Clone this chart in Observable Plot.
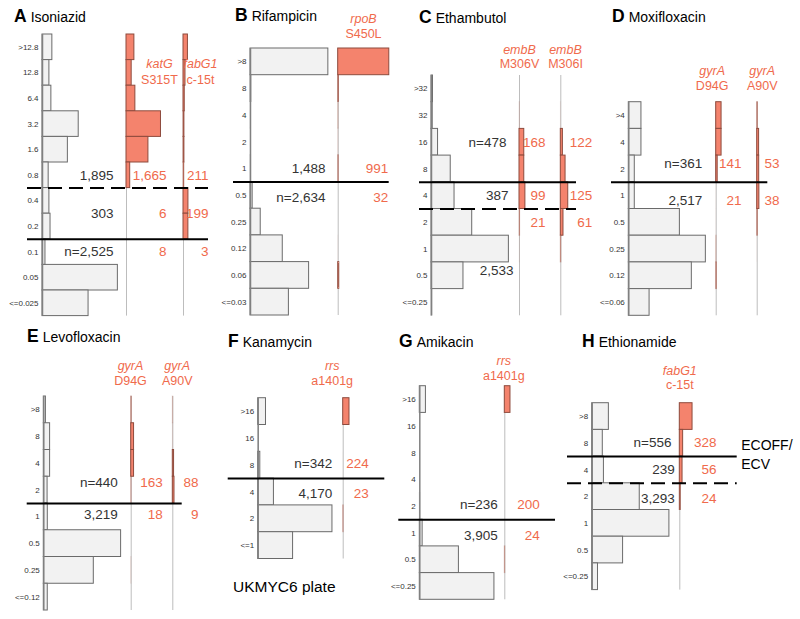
<!DOCTYPE html>
<html><head><meta charset="utf-8">
<script src="https://cdn.jsdelivr.net/npm/d3@7"></script>
<script src="https://cdn.jsdelivr.net/npm/@observablehq/plot@0.6"></script>
<style>
body{margin:0;background:#fff;}
#fig{position:relative;width:800px;height:619px;overflow:hidden;font-family:"Liberation Sans",Arial,Helvetica,sans-serif;background:#fff;}
#fig svg{position:absolute;left:0;top:0;}
.ttl{position:absolute;font-size:14px;color:#000;white-space:nowrap;line-height:17px;}
.ttl b{font-size:17.5px;margin-right:4px;}
.note{position:absolute;font-size:15.5px;color:#000;white-space:nowrap;line-height:16px;}
</style></head><body><div id="fig"></div>
<script>
// ---------- DATA ----------
// A Isoniazid
const isoMIC = [">12.8","12.8","6.4","3.2","1.6","0.8","0.4","0.2","0.1","0.05","<=0.025"];
const isoAll = [200,140,180,735,515,125,140,163,60,1530,935];
const isoKatG = [160,105,180,700,445,75,3,3,2,3,3];
const isoFabG1 = [90,40,25,20,20,16,100,99,1,1,1];
const isoSolid = "0.1", isoDashed = "0.4";
// B Rifampicin
const rifMIC = [">8","8","4","2","1","0.5","0.25","0.12","0.06","<=0.03"];
const rifAll = [1448,16,8,6,10,40,190,600,1090,714];
const rifRpoB = [950,15,8,6,12,2,3,5,20,2];
const rifSolid = "0.5", rifDashed = null;
// C Ethambutol
const embMIC = [">32","32","16","8","4","2","1","0.5","<=0.25"];
const embAll = [25,20,110,323,387,684,1300,537,12];
const embM306V = [2,6,80,80,99,10,5,4,2];
const embM306I = [2,5,35,80,125,45,10,4,2];
const embSolid = "4", embDashed = "2";
// D Moxifloxacin
const mxfMIC = [">4","4","2","1","0.5","0.25","0.12","<=0.06"];
const mxfAll = [146,146,69,69,590,890,728,240];
const mxfD94G = [62,62,17,3,3,5,8,2];
const mxfA90V = [8,22,23,25,8,3,1,1];
const mxfSolid = "1", mxfDashed = null;
// E Levofloxacin
const lfxMIC = [">8","8","4","2","1","0.5","0.25","<=0.12"];
const lfxAll = [50,150,150,90,95,1840,1190,94];
const lfxD94G = [15,68,68,12,3,5,8,2];
const lfxA90V = [10,8,30,40,5,2,1,1];
const lfxSolid = "1", lfxDashed = null;
// F Kanamycin
const kanMIC = [">16","16","8","4","2","<=1"];
const kanAll = [260,12,70,525,2480,1165];
const kanRrs = [210,6,8,3,18,2];
const kanSolid = "4", kanDashed = null;
// G Amikacin
const amiMIC = [">16","16","8","4","2","1","0.5","<=0.25"];
const amiAll = [205,6,5,5,15,95,1310,2500];
const amiRrs = [190,3,2,2,3,3,18,3];
const amiSolid = "1", amiDashed = null;
// H Ethionamide
const etoMIC = [">8","8","4","2","1","0.5","<=0.25"];
const etoAll = [340,216,239,970,1575,630,118];
const etoFabG1 = [260,68,56,20,2,1,1];
const etoSolid = "4", etoDashed = "2";

// ---------- STYLE ----------
const RED_FILL = "#f4836d", RED_STROKE = "#8e4b3d", RED_TEXT = "#f06a4c";
const GREY_FILL = "#f2f2f2", GREY_STROKE = "#6a6a6a", TEXT = "#333";
const FONT = "Liberation Sans, Arial, Helvetica, sans-serif";

// ---------- PANELS ----------
const panels = [
 {key:"A", name:"Isoniazid", mic:isoMIC, all:isoAll, solid:isoSolid, dashed:isoDashed, nGroup:2,
  genes:[{gene:"katG",mut:"S315T",counts:isoKatG},{gene:"fabG1",mut:"c-15t",counts:isoFabG1}],
  L:{axis:42, top:34, rowH:25.6, cpp:20.3, gx:[84,141], lineL:15, lineR:25, tx:14, ty:22,
     mainDx:[71,71,71], mainRows:[5.5,7,8.5], geneRows:[5.5,7,8.5], geneDx:[40,25],
     gLabel:[{dx:33,y:63},{dx:17,y:63}], gGap:16}},
 {key:"B", name:"Rifampicin", mic:rifMIC, all:rifAll, solid:rifSolid, dashed:rifDashed, nGroup:1,
  genes:[{gene:"rpoB",mut:"S450L",counts:rifRpoB}],
  L:{axis:250, top:48, rowH:26.7, cpp:18.6, gx:[87.7], lineL:17, lineR:51, tx:235, ty:21,
     mainDx:[75,75], mainRows:[4.5,5.6], geneRows:[4.5,5.6], geneDx:[50],
     gLabel:[{dx:25.3,y:18}], gGap:15}},
 {key:"C", name:"Ethambutol", mic:embMIC, all:embAll, solid:embSolid, dashed:embDashed, nGroup:0,
  genes:[{gene:"embB",mut:"M306V",counts:embM306V},{gene:"embB",mut:"M306I",counts:embM306I}],
  L:{axis:431, top:75, rowH:26.7, cpp:16.8, gx:[88,129.3], lineL:12, lineR:15.7, tx:419, ty:23,
     mainDx:[75,77,82], mainRows:[2.5,4.5,7.3], geneRows:[2.5,4.5,5.5], geneDx:[26,31.4],
     gLabel:[{dx:0,y:49},{dx:4.7,y:49}], gGap:14}},
 {key:"D", name:"Moxifloxacin", mic:mxfMIC, all:mxfAll, solid:mxfSolid, dashed:mxfDashed, nGroup:0,
  genes:[{gene:"gyrA",mut:"D94G",counts:mxfD94G},{gene:"gyrA",mut:"A90V",counts:mxfA90V}],
  L:{axis:628.3, top:101.7, rowH:26.7, cpp:11.55, gx:[87.4,128.4], lineL:17.3, lineR:10.6, tx:612, ty:22,
     mainDx:[73.4,73.4], mainRows:[2.3,3.7], geneRows:[2.3,3.7], geneDx:[25.3,22.3],
     gLabel:[{dx:-4,y:70},{dx:5,y:70}], gGap:15}},
 {key:"E", name:"Levofloxacin", mic:lfxMIC, all:lfxAll, solid:lfxSolid, dashed:lfxDashed, nGroup:0,
  genes:[{gene:"gyrA",mut:"D94G",counts:lfxD94G},{gene:"gyrA",mut:"A90V",counts:lfxA90V}],
  L:{axis:43.3, top:396, rowH:26.75, cpp:23.8, gx:[87.4,129], lineL:16.6, lineR:9.4, tx:27, ty:342,
     mainDx:[74,74], mainRows:[3.24,4.41], geneRows:[3.24,4.41], geneDx:[31.6,25.7],
     gLabel:[{dx:-0.7,y:365},{dx:4.4,y:365}], gGap:15}},
 {key:"F", name:"Kanamycin", mic:kanMIC, all:kanAll, solid:kanSolid, dashed:kanDashed, nGroup:0,
  genes:[{gene:"rrs",mut:"a1401g",counts:kanRrs}],
  L:{axis:257.7, top:397.7, rowH:26.8, cpp:33.4, gx:[85], lineL:30, lineR:41.6, tx:228, ty:347,
     mainDx:[74,74], mainRows:[2.45,3.57], geneRows:[2.45,3.57], geneDx:[25.6],
     gLabel:[{dx:-11,y:365}], gGap:15}},
 {key:"G", name:"Amikacin", mic:amiMIC, all:amiAll, solid:amiSolid, dashed:amiDashed, nGroup:0,
  genes:[{gene:"rrs",mut:"a1401g",counts:amiRrs}],
  L:{axis:419.3, top:385.7, rowH:26.7, cpp:33.5, gx:[85], lineL:21, lineR:50.7, tx:399, ty:347,
     mainDx:[78,78], mainRows:[4.43,5.59], geneRows:[4.43,5.59], geneDx:[35],
     gLabel:[{dx:-1,y:360}], gGap:15}},
 {key:"H", name:"Ethionamide", mic:etoMIC, all:etoAll, solid:etoSolid, dashed:etoDashed, nGroup:0,
  genes:[{gene:"fabG1",mut:"c-15t",counts:etoFabG1}], ecoffNote:true,
  L:{axis:591.7, top:402.7, rowH:26.7, cpp:20.4, gx:[87.6], lineL:24.7, lineR:57.4, tx:582, ty:347,
     mainDx:[79.3,82.6,82.6], mainRows:[1.48,2.48,3.58], geneRows:[1.48,2.48,3.58], geneDx:[36.7],
     gLabel:[{dx:0,y:370}], gGap:14}}
];

const W = 800, H = 619;
const fmt = d3.format(",");
const fig = document.getElementById("fig");

function makePanel(p){
  const L = p.L, n = p.mic.length, c = L.cpp;
  const gxLast = L.gx[L.gx.length-1];
  const marginLeft = L.axis - L.lineL;
  const marginRight = W - (L.axis + gxLast + L.lineR);
  const marginTop = L.top;
  const marginBottom = H - (L.top + n*L.rowH);
  const xDomain = [-L.lineL*c, (gxLast + L.lineR)*c];

  const solidIdx = p.mic.indexOf(p.solid);
  const dashedIdx = p.dashed == null ? null : p.mic.indexOf(p.dashed);
  const bounds = [solidIdx, dashedIdx].filter(v => v != null).sort((a,b)=>a-b);
  const edges = [0, ...bounds, n];
  const groups = d3.range(edges.length-1).map(k => ({k, from:edges[k], to:edges[k+1]}));

  const rows = p.mic.map((m,i) => ({mic:m, i, count:p.all[i]}));
  const geneBars = p.genes.flatMap((g,j) => g.counts.map((v,i) => ({i, count:v, base:L.gx[j]*c})));
  const geneBases = p.genes.map((g,j) => L.gx[j]*c);
  // bars narrower than a pixel fade out, as in the original rendering
  const edgeOpacity = d => Math.max(0, Math.min(1, (d.count / c - 0.25) / 0.9));
  const fillOpacity = d => Math.max(0, Math.min(1, (d.count / c - 0.2) / 0.6));

  const mainLabels = groups.map(g => ({
    text:(g.k === p.nGroup ? "n=" : "") + fmt(d3.sum(p.all.slice(g.from, g.to))),
    x:L.mainDx[g.k]*c, y:L.mainRows[g.k]}));
  const geneLabels = p.genes.flatMap((g,j) => groups.map(gr => ({
    text:fmt(d3.sum(g.counts.slice(gr.from, gr.to))),
    x:(L.gx[j] + L.geneDx[j])*c, y:L.geneRows[gr.k]})));
  const geneNames = p.genes.map((g,j) => ({
    gene:g.gene, mut:g.mut, x:(L.gx[j] + L.gLabel[j].dx)*c, y:(L.gLabel[j].y - L.top)/L.rowH}));

  const marks = [
    Plot.ruleX(geneBases, {x:d=>d, y1:()=>0, y2:()=>n, stroke:"#bdbdbd", strokeWidth:1}),
    Plot.rect(rows, {x1:()=>0, x2:"count", y1:"i", y2:d=>d.i+1, fill:GREY_FILL, stroke:GREY_STROKE, strokeWidth:1, strokeOpacity:edgeOpacity}),
    Plot.ruleX([0], {y1:()=>0, y2:()=>n, stroke:"#808080", strokeWidth:1.5}),
    Plot.rect(geneBars, {x1:"base", x2:d=>d.base+d.count, y1:"i", y2:d=>d.i+1, fill:RED_FILL, fillOpacity, stroke:RED_STROKE, strokeWidth:1, strokeOpacity:edgeOpacity}),
    Plot.text(rows, {x:()=>0, y:d=>d.i+0.5, text:"mic", dx:-4, textAnchor:"end", fontSize:8, fill:TEXT, fontFamily:FONT}),
    Plot.ruleY([solidIdx], {stroke:"#000", strokeWidth:2}),
    dashedIdx != null ? Plot.ruleY([dashedIdx], {stroke:"#000", strokeWidth:2, strokeDasharray:"14,7"}) : null,
    Plot.text(mainLabels, {x:"x", y:"y", text:"text", textAnchor:"end", fontSize:13.5, fill:TEXT, fontFamily:FONT}),
    Plot.text(geneLabels, {x:"x", y:"y", text:"text", textAnchor:"end", fontSize:13.5, fill:RED_TEXT, fontFamily:FONT}),
    Plot.text(geneNames, {x:"x", y:"y", text:"gene", fontStyle:"italic", fontSize:12.5, fill:RED_TEXT, fontFamily:FONT}),
    Plot.text(geneNames, {x:"x", y:"y", text:"mut", dy:L.gGap, fontSize:12.5, fill:RED_TEXT, fontFamily:FONT}),
    p.ecoffNote ? Plot.text(["ECOFF/\nECV"], {x:()=>xDomain[1], y:()=>solidIdx, text:d=>d, dx:4, dy:-3, textAnchor:"start", lineHeight:1.33, fontSize:14, fill:"#000", fontFamily:FONT}) : null
  ].filter(Boolean);

  const svg = Plot.plot({
    width:W, height:H, marginLeft, marginRight, marginTop, marginBottom,
    x:{type:"linear", domain:xDomain, axis:null},
    y:{type:"linear", domain:[0,n], reverse:true, axis:null},
    opacity:{type:"identity"},
    style:{background:"transparent", overflow:"visible", fontFamily:FONT},
    marks
  });
  fig.appendChild(svg);

  const t = document.createElement("div");
  t.className = "ttl";
  t.style.left = L.tx + "px";
  t.style.top = (L.ty - 14) + "px";
  t.innerHTML = "<b>" + p.key + "</b>" + p.name;
  fig.appendChild(t);
}

panels.forEach(makePanel);

const note = document.createElement("div");
note.className = "note";
note.style.left = "233px";
note.style.top = "579px";
note.textContent = "UKMYC6 plate";
fig.appendChild(note);
</script>
</body></html>
